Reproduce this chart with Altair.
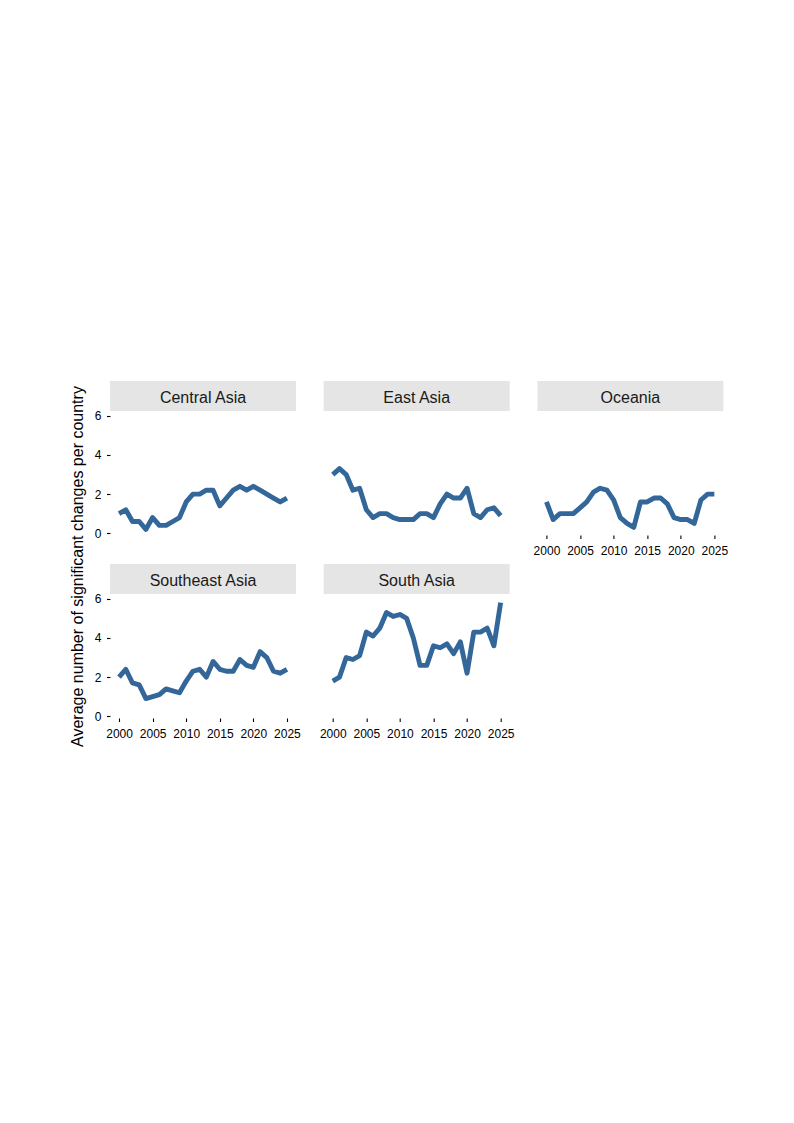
import altair as alt
import pandas as pd

years = [2000, 2001, 2002, 2003, 2004, 2005, 2006, 2007, 2008, 2009, 2010, 2011, 2012,
         2013, 2014, 2015, 2016, 2017, 2018, 2019, 2020, 2021, 2022, 2023, 2024, 2025]

regions = ["Central Asia", "East Asia", "Oceania", "Southeast Asia", "South Asia"]

central_asia = [1.0, 1.2, 0.6, 0.6, 0.2, 0.8, 0.4, 0.4, 0.6, 0.8, 1.6, 2.0, 2.0,
                2.2, 2.2, 1.4, 1.8, 2.2, 2.4, 2.2, 2.4, 2.2, 2.0, 1.8, 1.6, 1.8]
east_asia = [3.0, 3.3, 3.0, 2.2, 2.3, 1.2, 0.8, 1.0, 1.0, 0.8, 0.7, 0.7, 0.7,
             1.0, 1.0, 0.8, 1.5, 2.0, 1.8, 1.8, 2.3, 1.0, 0.8, 1.2, 1.3, 0.9]
oceania = [1.6, 0.7, 1.0, 1.0, 1.0, 1.3, 1.6, 2.1, 2.3, 2.2, 1.7, 0.8, 0.5,
           0.3, 1.6, 1.6, 1.8, 1.8, 1.5, 0.8, 0.7, 0.7, 0.5, 1.7, 2.0, 2.0]
southeast_asia = [2.0, 2.4, 1.7, 1.6, 0.9, 1.0, 1.1, 1.4, 1.3, 1.2, 1.8, 2.3, 2.4,
                  2.0, 2.8, 2.4, 2.3, 2.3, 2.9, 2.6, 2.5, 3.3, 3.0, 2.3, 2.2, 2.4]
south_asia = [1.8, 2.0, 3.0, 2.9, 3.1, 4.3, 4.1, 4.5, 5.3, 5.1, 5.2, 5.0, 4.0,
              2.6, 2.6, 3.6, 3.5, 3.7, 3.2, 3.8, 2.2, 4.3, 4.3, 4.5, 3.6, 5.8]

x_ticks = [2000, 2005, 2010, 2015, 2020, 2025]
y_ticks = [0, 2, 4, 6]
y_title = "Average number of significant changes per country"

series = {
    "Central Asia": central_asia,
    "East Asia": east_asia,
    "Oceania": oceania,
    "Southeast Asia": southeast_asia,
    "South Asia": south_asia,
}

FONT = "Liberation Sans"
LINE_COLOR = "#336699"
STRIP_FILL = "#E5E5E5"
W, STRIP, PLOT = 186, 30, 124
H = STRIP + PLOT
X_DOMAIN = [1998.65, 2026.35]
Y_DOMAIN = [-0.09, 7.78]


def make_x_axis():
    return alt.Axis(values=x_ticks, format="d", title=None, domain=False, grid=False,
                    tickSize=3.5, tickColor="#000000", tickWidth=1.1,
                    labelFont=FONT, labelFontSize=12, labelColor="#000000",
                    labelPadding=7)


def make_y_axis(with_title):
    kw = dict(values=y_ticks, domain=False, grid=False,
              tickSize=3.5, tickColor="#000000", tickWidth=1.1,
              labelFont=FONT, labelFontSize=12, labelColor="#000000",
              labelPadding=5.5)
    if with_title:
        kw.update(title=y_title, titleFont=FONT, titleFontSize=16,
                  titleFontWeight="normal", titleColor="#000000",
                  titleAngle=270, titleAlign="center", titleBaseline="middle",
                  titleX=-33, titleY=2)
    else:
        kw.update(title=None)
    return alt.Axis(**kw)


def panel(name, show_x, show_y, with_title=False):
    df = pd.DataFrame({"year": years, "value": series[name]})
    line = alt.Chart(df).mark_line(
        color=LINE_COLOR, strokeWidth=4.9, strokeJoin="round", strokeCap="butt"
    ).encode(
        x=alt.X("year:Q", scale=alt.Scale(domain=X_DOMAIN, nice=False, zero=False),
                axis=make_x_axis() if show_x else None),
        y=alt.Y("value:Q", scale=alt.Scale(domain=Y_DOMAIN, nice=False, zero=False),
                axis=make_y_axis(with_title) if show_y else None),
    )
    strip_df = pd.DataFrame({"region": [name]})
    rect = alt.Chart(strip_df).mark_rect(color=STRIP_FILL).encode(
        x=alt.value(0), x2=alt.value(W), y=alt.value(0), y2=alt.value(STRIP)
    )
    text = alt.Chart(strip_df).mark_text(
        font=FONT, fontSize=16, color="#1a1a1a", align="center", baseline="middle"
    ).encode(x=alt.value(W / 2), y=alt.value(17), text="region:N")
    return alt.layer(rect, text, line).properties(width=W, height=H)


p1 = panel("Central Asia", show_x=False, show_y=True)
p2 = panel("East Asia", show_x=False, show_y=False)
p3 = panel("Oceania", show_x=True, show_y=False)
p4 = panel("Southeast Asia", show_x=True, show_y=True, with_title=True)
p5 = panel("South Asia", show_x=True, show_y=False)

chart = alt.concat(
    p1, p2, p3, p4, p5, columns=3,
    spacing={"row": 29, "column": 27.7}, bounds="flush"
).properties(
    padding={"left": 60, "top": 372, "right": 5, "bottom": 5}
).configure_view(stroke="transparent")

chart.save("out.html", embed_options={"renderer": "svg", "actions": False})
